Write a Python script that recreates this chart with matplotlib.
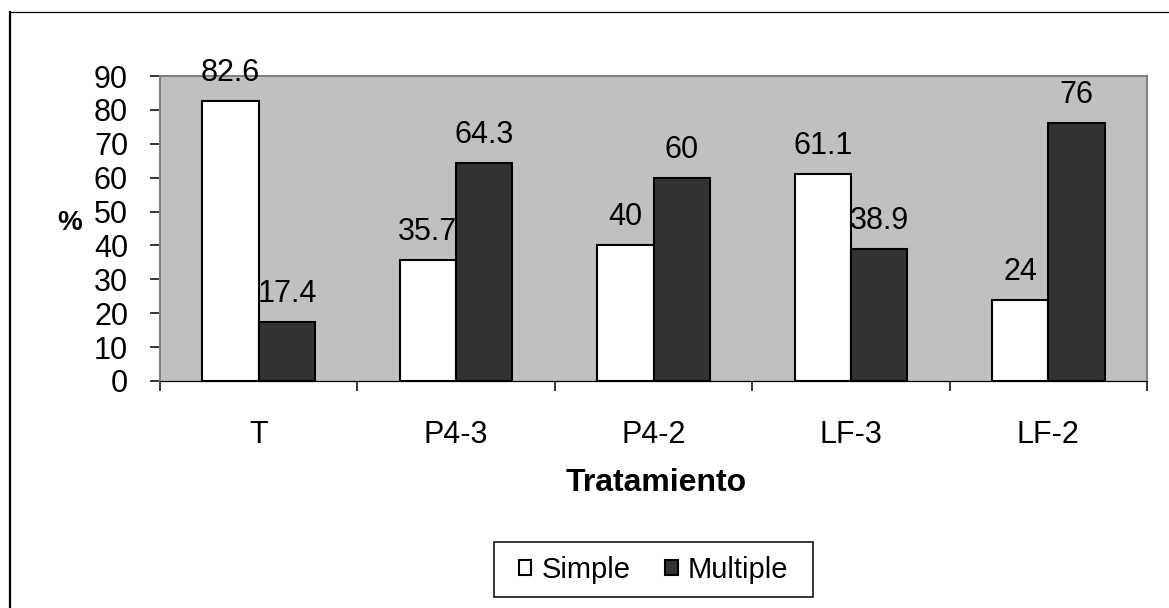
import matplotlib
matplotlib.use("Agg")
import matplotlib.pyplot as plt
from matplotlib.patches import Patch, Rectangle
from matplotlib.lines import Line2D
import numpy as np

# Data
categories = ["T", "P4-3", "P4-2", "LF-3", "LF-2"]
simple = [82.6, 35.7, 40, 61.1, 24]
multiple = [17.4, 64.3, 60, 38.9, 76]
series_names = ["Simple", "Multiple"]
y_ticks = list(range(0, 91, 10))

plt.rcParams["font.family"] = ["Liberation Sans", "DejaVu Sans"]

W, H = 1169, 608
fig = plt.figure(figsize=(W / 100, H / 100), dpi=100)
fig.patch.set_facecolor("white")

# plot area in pixel coordinates
px_left, px_right, px_top, px_bottom = 160, 1147, 76, 381
ax = fig.add_axes([px_left / W, 1 - px_bottom / H,
                   (px_right - px_left) / W, (px_bottom - px_top) / H])
ax.set_facecolor("#C0C0C0")

x = np.arange(len(categories))
bw = 0.2857
bars_s = ax.bar(x - bw / 2, simple, width=bw, color="white",
                edgecolor="black", linewidth=1.5, zorder=2)
bars_m = ax.bar(x + bw / 2, multiple, width=bw, color="#333333",
                edgecolor="black", linewidth=1.5, zorder=2)

# value labels above each bar
for bars, vals in ((bars_s, simple), (bars_m, multiple)):
    for b, v in zip(bars, vals):
        ax.annotate(f"{v:g}", xy=(b.get_x() + b.get_width() / 2, v),
                    xytext=(0, 14.5), textcoords="offset points",
                    ha="center", va="baseline", fontsize=22, color="black",
                    zorder=5)

ax.set_xlim(-0.5, len(categories) - 0.5)
ax.set_ylim(0, 90)
ax.set_yticks(y_ticks)
ax.set_yticklabels([str(t) for t in y_ticks], fontsize=22)
ax.tick_params(axis="y", direction="out", length=7.2, width=1.1,
               color="black", pad=15.8)

ax.set_xticks(x)
ax.set_xticklabels(categories, fontsize=22)
ax.tick_params(axis="x", which="major", length=0, pad=28)
ax.set_xticks(np.arange(-0.5, len(categories), 1.0), minor=True)
ax.tick_params(axis="x", which="minor", direction="out", length=7.2,
               width=1.1, color="black")

for side in ("top", "left", "right"):
    ax.spines[side].set_color("#808080")
    ax.spines[side].set_linewidth(1.5)
ax.spines["bottom"].set_color("black")
ax.spines["bottom"].set_linewidth(0.9)

ax.set_xlabel("Tratamiento", fontsize=23, fontweight="bold")
ax.xaxis.set_label_coords(0.503, (px_bottom - 468) / (px_bottom - px_top))
ax.xaxis.label.set_va("top")

fig.text(70 / W, 1 - 223 / H, "%", fontsize=20, fontweight="bold",
         ha="center", va="center")

# legend
handles = [Patch(facecolor="white", edgecolor="black", linewidth=1.5),
           Patch(facecolor="#333333", edgecolor="black", linewidth=1.5)]
fig.legend(handles, series_names, loc="center", ncol=2, frameon=False,
           bbox_to_anchor=(653.5 / W, 1 - 569.5 / H), fontsize=21,
           handlelength=0.42, handleheight=0.42, handletextpad=0.34,
           columnspacing=1.2, borderpad=0.2)
fig.add_artist(Rectangle((494 / W, 1 - 597 / H), (813 - 494) / W, 55 / H,
                         transform=fig.transFigure, facecolor="none",
                         edgecolor="black", linewidth=1.1))

# chart-area border (left and top edges)
fig.add_artist(Line2D([10 / W, 10 / W], [0, 1 - 12 / H],
                      transform=fig.transFigure, color="black", linewidth=1.6))
fig.add_artist(Line2D([10 / W, 1], [1 - 12 / H, 1 - 12 / H],
                      transform=fig.transFigure, color="black", linewidth=0.9))

fig.savefig("out.png", dpi=100)
